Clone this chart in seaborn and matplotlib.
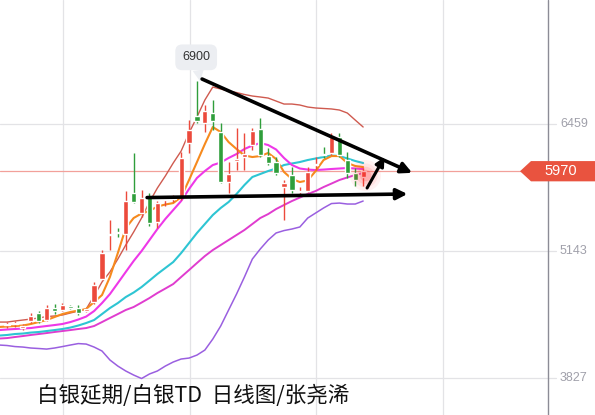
import numpy as np
import pandas as pd
import seaborn as sns
import matplotlib.pyplot as plt
from matplotlib.patches import Polygon
from matplotlib.transforms import blended_transform_factory

# daily candles, oldest first
opens = [4376, 4387, 4345, 4418, 4501, 4428, 4553, 4532, 4573, 4553, 4521, 4615,
         4853, 5310, 5335, 5319, 5744, 5537, 5702, 5443, 5667, 5677, 5702, 6262,
         6542, 6469, 6573, 6376, 5858, 6080, 6117, 6241, 6407, 6127, 6065, 5806,
         5931, 5750, 5765, 6030, 6140, 6159, 6324, 6086, 5951, 5910]
highs = [4407, 4418, 4387, 4501, 4521, 4584, 4594, 4604, 4584, 4584, 4553, 4822,
         5153, 5464, 5381, 5764, 6159, 5775, 5744, 5661, 5713, 5723, 6169, 6500,
         6900, 6656, 6708, 6469, 6065, 6418, 6366, 6418, 6521, 6210, 6117, 5879,
         6013, 5806, 6013, 6117, 6221, 6366, 6366, 6169, 6003, 6003]
lows = [4345, 4356, 4324, 4397, 4397, 4418, 4490, 4521, 4542, 4480, 4511, 4594,
        4843, 5153, 5288, 5153, 5640, 5495, 5402, 5381, 5609, 5651, 5672, 6159,
        6469, 6376, 6397, 5848, 5744, 5982, 5982, 6190, 6117, 6034, 5931, 5464,
        5744, 5723, 5754, 5982, 6107, 6138, 6117, 5900, 5817, 5817]
closes = [4380, 4390, 4366, 4470, 4418, 4553, 4521, 4584, 4553, 4501, 4542, 4791,
          5122, 5319, 5325, 5661, 5651, 5692, 5433, 5640, 5672, 5682, 6107, 6397,
          6490, 6594, 6490, 5858, 5941, 6086, 6148, 6387, 6138, 6055, 5951, 5848,
          5775, 5754, 5962, 6034, 6138, 6324, 6138, 5951, 5879, 5970]

# indicator lines (one value per day, starting one day before the first candle)
ma5 = [4356, 4361, 4366, 4371, 4387, 4407, 4428, 4459, 4490, 4511, 4526, 4542,
       4615, 4687, 4874, 5122, 5381, 5485, 5532, 5558, 5604, 5625, 5640, 5702,
       5879, 6065, 6252, 6428, 6376, 6272, 6200, 6133, 6117, 6127, 6159, 6096,
       5962, 5889, 5858, 5874, 5972, 6086, 6127, 6127, 6055, 6024, 6013]
ma10 = [4324, 4330, 4335, 4340, 4345, 4356, 4366, 4376, 4387, 4407, 4433, 4464,
        4521, 4604, 4697, 4811, 4926, 5040, 5143, 5257, 5371, 5475, 5568, 5661,
        5786, 5900, 5972, 6034, 6060, 6107, 6148, 6200, 6236, 6262, 6241, 6195,
        6107, 6034, 5998, 5987, 5982, 5987, 5993, 5998, 6003, 5998, 5993]
boll_mid = [4267, 4273, 4283, 4288, 4298, 4304, 4314, 4324, 4335, 4350, 4371, 4397,
            4428, 4490, 4552, 4604, 4666, 4713, 4770, 4837, 4905, 4967, 5029, 5122,
            5226, 5330, 5423, 5516, 5589, 5651, 5734, 5827, 5910, 5941, 5972, 5998,
            6034, 6050, 6065, 6086, 6102, 6117, 6133, 6127, 6102, 6076, 6055]
ma_long = [4236, 4241, 4252, 4262, 4273, 4283, 4293, 4304, 4314, 4324, 4335, 4345,
           4366, 4407, 4449, 4490, 4532, 4563, 4609, 4656, 4708, 4754, 4801, 4874,
           4946, 5019, 5091, 5153, 5205, 5257, 5309, 5361, 5423, 5485, 5526, 5578,
           5620, 5661, 5697, 5734, 5765, 5806, 5842, 5879, 5905, 5931, 5951]
boll_up = [4407, 4407, 4418, 4428, 4438, 4449, 4464, 4470, 4480, 4501, 4521, 4542,
           4677, 4822, 4926, 5060, 5205, 5340, 5485, 5651, 5796, 5920, 6055, 6179,
           6366, 6532, 6708, 6842, 6822, 6801, 6785, 6765, 6749, 6739, 6728, 6697,
           6666, 6666, 6656, 6635, 6625, 6620, 6615, 6604, 6573, 6500, 6428]
boll_low = [4169, 4164, 4153, 4148, 4138, 4133, 4127, 4138, 4153, 4169, 4184, 4179,
            4148, 4107, 4014, 3951, 3900, 3858, 3822, 3869, 3900, 3951, 3993, 4024,
            4034, 4065, 4117, 4231, 4366, 4532, 4697, 4874, 5060, 5164, 5257, 5330,
            5355, 5371, 5392, 5485, 5537, 5589, 5635, 5640, 5630, 5630, 5661]

price_ticks = [7775, 6459, 5143, 3827]
last_price = 5970
peak_label = "6900"
title = "白银延期/白银TD  日线图/张尧浠"

sns.set_style("white")
plt.rcParams['font.family'] = ['Liberation Sans', 'Noto Sans CJK SC', 'DejaVu Sans']

fig = plt.figure(figsize=(5.95, 4.15), dpi=100)
ax = fig.add_axes([0, 0, 1, 1])
ax.set_xlim(-0.89, 74.3)
ax.set_ylim(3444, 7744)

# grid
for p in price_ticks:
    ax.axhline(p, xmin=0, xmax=0.935, color='#e3e3e6', lw=0.9, zorder=0)
for gx in [7.1, 23.1, 39.1, 55.1]:
    ax.axvline(gx, color='#e3e3e6', lw=0.9, zorder=0)
ax.axvline(68.3, color='#8c8c96', lw=1.0, zorder=1)

# indicator lines
line_x = np.arange(-1, len(closes))
lines = [
    (boll_up, '#cf5a4f', 1.0),
    (boll_low, '#9a5fe0', 1.1),
    (ma_long, '#e03ccf', 1.4),
    (boll_mid, '#2ec5d3', 1.5),
    (ma10, '#ee38e8', 1.5),
    (ma5, '#f68a1e', 1.5),
]
for vals, col, lw in lines:
    df = pd.DataFrame({'day': line_x, 'price': vals})
    sns.lineplot(data=df, x='day', y='price', ax=ax, color=col, lw=lw, zorder=2)
ax.axis('off')

# candles
days = np.arange(len(closes))
o = np.array(opens); c = np.array(closes)
colors = np.where(c >= o, '#ec4a3c', '#2f9e3b')
ax.vlines(days, lows, highs, colors=colors, lw=1.0, zorder=3)
body = np.maximum(np.abs(c - o), 12)
ax.bar(days, body, bottom=np.minimum(o, c), width=0.66, color=colors, zorder=4)

# glow on the last candle
for s, a in [(500, 0.06), (300, 0.08), (160, 0.12), (70, 0.18)]:
    ax.scatter(days[-1] + 0.2, c[-1] - 40, s=s, color='#ff2a2a', alpha=a,
               lw=0, zorder=5)

# last price line and tag
ax.axhline(last_price, xmin=0, xmax=0.875, color='#f2a09a', lw=0.9, zorder=1)
tr = blended_transform_factory(ax.transAxes, ax.transData)
h = 105
tag = Polygon([(520 / 595, last_price), (531 / 595, last_price + h),
               (1.0, last_price + h), (1.0, last_price - h),
               (531 / 595, last_price - h)], closed=True, transform=tr,
              fc='#e9533f', ec='none', zorder=6)
ax.add_patch(tag)
ax.text(561 / 595, last_price, str(last_price), transform=tr, ha='center',
        va='center', color='white', fontsize=10.5, zorder=7)

# price axis labels
for p in price_ticks:
    ax.text(560 / 595, p, str(p), transform=tr, ha='left', va='center',
            color='#a0a0aa', fontsize=9)

# peak label
ax.annotate(peak_label, xy=(24.4, 6900), xytext=(23.9, 7150),
            ha='center', va='center', fontsize=9, color='#333333',
            bbox=dict(boxstyle='round,pad=0.55', fc='#eceef2', ec='none'),
            arrowprops=dict(arrowstyle='wedge,tail_width=0.9', fc='#eceef2',
                            ec='none', shrinkA=0, shrinkB=0), zorder=6)

# hand-drawn trend arrows
arrow_kw = dict(arrowstyle='-|>', color='black', lw=2.6, mutation_scale=16,
                shrinkA=0, shrinkB=0)
ax.annotate('', xy=(51.2, 5953), xytext=(24.65, 6925), arrowprops=arrow_kw, zorder=8)
ax.annotate('', xy=(50.6, 5734), xytext=(17.7, 5697), arrowprops=arrow_kw, zorder=8)
ax.annotate('', xy=(47.7, 6117), xytext=(45.5, 5796),
            arrowprops=dict(arrow_kw, lw=2.2, mutation_scale=13), zorder=8)

fig.text(37 / 595, 1 - 396 / 415, title, ha='left', va='center',
         fontsize=15.5, color='#111111',
         family=['Noto Sans CJK SC', 'DejaVu Sans'])

plt.savefig('out.png', dpi=100)
